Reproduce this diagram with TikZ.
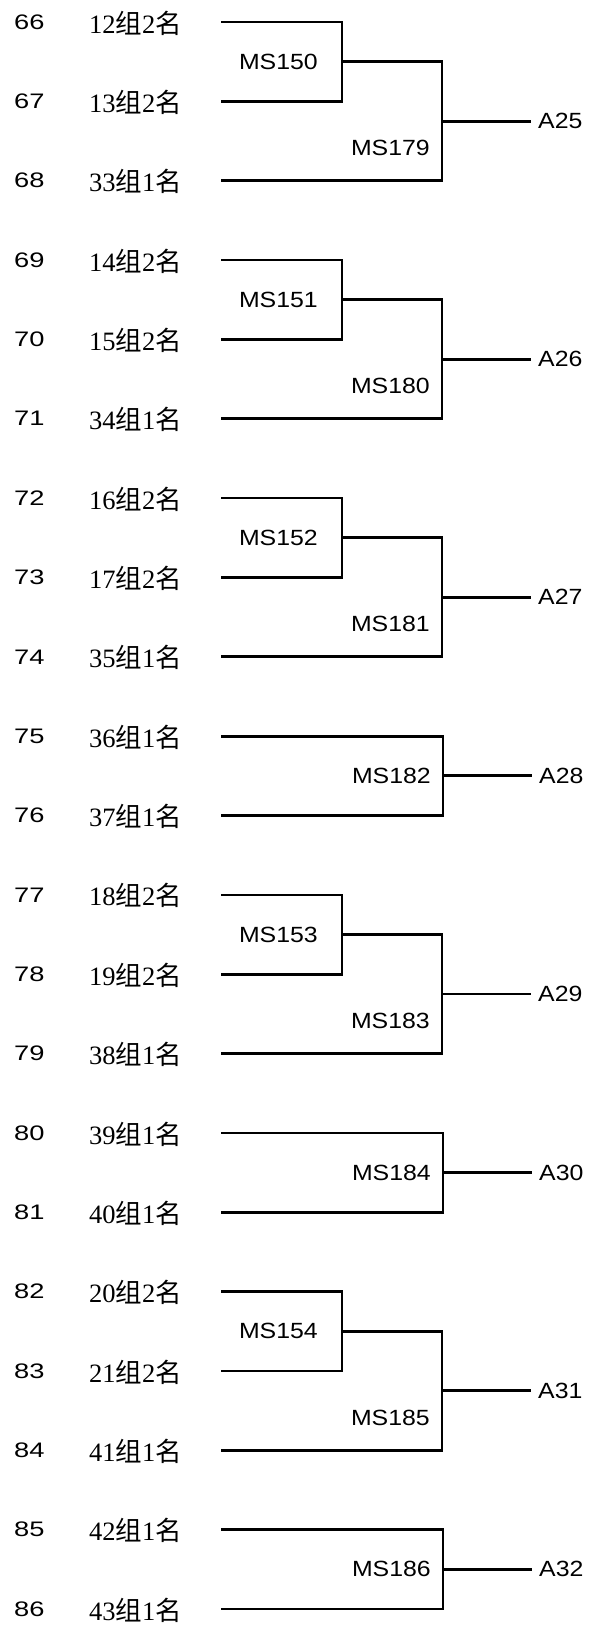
\documentclass[tikz,border=0pt]{standalone}
\usepackage{fontspec}
\usetikzlibrary{calc}
\setmainfont{Liberation Serif}
\newfontfamily\msfont[FakeStretch=1.13]{Liberation Sans}
\newfontfamily\numfont[FakeStretch=1.3]{Liberation Sans}
\newfontfamily\cjkfont{Noto Sans CJK SC}
\newcommand{\zu}{{\cjkfont 组}}
\newcommand{\ming}{{\cjkfont 名}}
\tikzset{
  bracket/.style={line width=2.7pt, line join=miter, line cap=rect},
  numlab/.style={anchor=west, inner sep=0pt, font=\numfont\fontsize{21}{25}\selectfont},
  grplab/.style={anchor=west, inner sep=0pt, font=\fontsize{26.5}{30}\selectfont},
  mslab/.style={anchor=east, inner sep=0pt, font=\msfont\fontsize{22}{26}\selectfont},
  alab/.style={anchor=west, inner xsep=8pt, inner ysep=0pt, font=\msfont\fontsize{22}{26}\selectfont}
}
\newcommand{\threegrp}[6]{%
  \coordinate (j#4) at ($(s#1)!0.5!(s#2)+(120,0)$);
  \coordinate (k#5) at ($(j#4)+(100,0)$);
  \coordinate (m#5) at ($(k#5)!0.5!(k#5 |- s#3)$);
  \draw[bracket] (s#1) -| (j#4) |- (s#2);
  \draw[bracket] (j#4) -- (k#5) |- (s#3);
  \node[mslab] (l#4) at ($(j#4)+(-24,0)$) {MS#4};
  \node[mslab] (l#5) at ($(m#5)+(-12,27)$) {MS#5};
  \node[alab] (a#6) at ($(m#5)+(88,0)$) {#6};
  \draw[bracket] (m#5) -- (a#6.west);
}
\newcommand{\twogrp}[4]{%
  \coordinate (k#3) at ($(s#1)+(221,0)$);
  \coordinate (m#3) at ($(k#3)!0.5!(k#3 |- s#2)$);
  \draw[bracket] (s#1) -| (m#3) |- (s#2);
  \node[mslab] (l#3) at ($(m#3)+(-12,0)$) {MS#3};
  \node[alab] (a#4) at ($(m#3)+(88,0)$) {#4};
  \draw[bracket] (m#3) -- (a#4.west);
}
\begin{document}
\begin{tikzpicture}[x=1pt,y=-1pt]
\useasboundingbox (0,0) rectangle (594,1625);
\foreach \i/\num/\g/\r in {0/66/12/2,1/67/13/2,2/68/33/1,3/69/14/2,4/70/15/2,5/71/34/1,
  6/72/16/2,7/73/17/2,8/74/35/1,9/75/36/1,10/76/37/1,11/77/18/2,12/78/19/2,13/79/38/1,
  14/80/39/1,15/81/40/1,16/82/20/2,17/83/21/2,18/84/41/1,19/85/42/1,20/86/43/1}{
  \pgfmathsetmacro\yy{22+79.35*\i}
  \node[numlab] (n\num) at (14,\yy) {\num};
  \node[grplab] (g\num) at (89,\yy+1) {\g\zu\r\ming};
  \coordinate (s\num) at (222,\yy);
}
\threegrp{66}{67}{68}{150}{179}{A25}
\threegrp{69}{70}{71}{151}{180}{A26}
\threegrp{72}{73}{74}{152}{181}{A27}
\twogrp{75}{76}{182}{A28}
\threegrp{77}{78}{79}{153}{183}{A29}
\twogrp{80}{81}{184}{A30}
\threegrp{82}{83}{84}{154}{185}{A31}
\twogrp{85}{86}{186}{A32}
\end{tikzpicture}
\end{document}
